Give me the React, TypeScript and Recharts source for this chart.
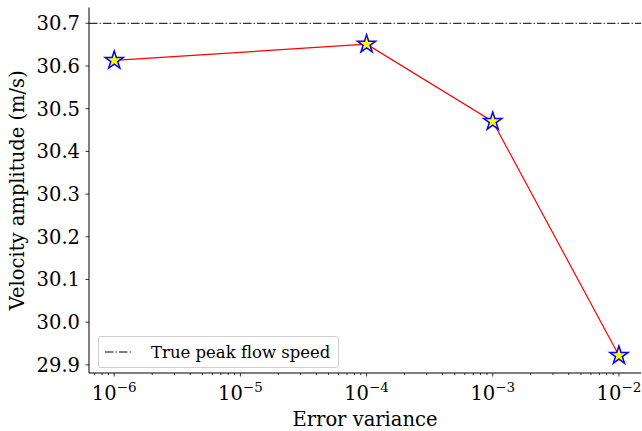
import { LineChart, Line, XAxis, YAxis, ReferenceLine } from "recharts";

const variances = [1e-6, 1e-4, 1e-3, 1e-2];
const amplitudes = [30.613, 30.651, 30.47, 29.922];
const truePeak = 30.7;
const yTicks = [29.9, 30.0, 30.1, 30.2, 30.3, 30.4, 30.5, 30.6, 30.7];
const majorX = [1e-6, 1e-5, 1e-4, 1e-3, 1e-2];

// minor log ticks 2..9 for each decade
const minorX: number[] = [];
for (let e = -7; e <= -2; e++) {
  for (let m = 2; m <= 9; m++) minorX.push(m * Math.pow(10, e));
}
const xDomain = [Math.pow(10, -6.2), Math.pow(10, -1.825)];
const allX = [...majorX, ...minorX].filter((v) => v >= xDomain[0] && v <= xDomain[1]);

const data = variances.map((v, i) => ({ variance: v, amplitude: amplitudes[i] }));

const FONT = "'DejaVu Serif', serif";
const FS = 19.5;
const txt = { fontFamily: FONT, fontSize: FS };

function XTick(props: any) {
  const { x, y, payload } = props;
  const v = payload.value;
  const exp = Math.round(Math.log10(v));
  const isMajor = Math.abs(Math.log10(v) - exp) < 1e-6;
  if (!isMajor) return <line x1={x} x2={x} y1={y} y2={y + 2} stroke="#000" strokeWidth={0.8} />;
  return (
    <g>
      <line x1={x} x2={x} y1={y} y2={y + 3.5} stroke="#000" strokeWidth={0.8} />
      <text x={x} y={y + 27} textAnchor="middle" style={txt} fill="#000">
        10
        <tspan dy={-8} style={{ fontSize: 13.5 }}>{"\u2212" + Math.abs(exp)}</tspan>
      </text>
    </g>
  );
}

function YTick(props: any) {
  const { x, y, payload } = props;
  return (
    <g>
      <line x1={x} x2={x - 3.5} y1={y} y2={y} stroke="#000" strokeWidth={0.8} />
      <text x={x - 9} y={y + 7} textAnchor="end" style={txt} fill="#000">
        {payload.value.toFixed(1)}
      </text>
    </g>
  );
}

function XLabel(props: any) {
  const { viewBox } = props;
  const cx = viewBox.x + viewBox.width / 2;
  return (
    <text x={cx} y={426} textAnchor="middle" style={txt} fill="#000">
      Error variance
    </text>
  );
}

function YLabel(props: any) {
  const { viewBox } = props;
  const cy = viewBox.y + viewBox.height / 2;
  return (
    <text x={24} y={cy} transform={`rotate(-90 24 ${cy})`} textAnchor="middle" style={txt} fill="#000">
      Velocity amplitude (m/s)
    </text>
  );
}

function Star(props: any) {
  const { cx, cy } = props;
  if (cx == null || cy == null) return null;
  const R = 9.5;
  const r = R * 0.382;
  const pts: string[] = [];
  for (let i = 0; i < 10; i++) {
    const a = -Math.PI / 2 + (i * Math.PI) / 5;
    const rad = i % 2 === 0 ? R : r;
    pts.push(`${cx + rad * Math.cos(a)},${cy + rad * Math.sin(a)}`);
  }
  return <polygon points={pts.join(" ")} fill="#ffff00" stroke="#0000ff" strokeWidth={1.5} strokeLinejoin="miter" />;
}

function LegendBox() {
  return (
    <div
      style={{
        position: "absolute",
        left: 98,
        top: 336,
        width: 241,
        height: 32,
        border: "1px solid #d0d0d0",
        borderRadius: 3,
        background: "rgba(255,255,255,0.8)",
        display: "flex",
        alignItems: "center",
        fontFamily: FONT,
        fontSize: 16.5,
        color: "#000",
        boxSizing: "border-box",
      }}
    >
      <svg width={28} height={10} style={{ marginLeft: 6 }}>
        <line x1={0} x2={27} y1={5} y2={5} stroke="#000" strokeWidth={1} strokeDasharray="8.5 2.1 1.3 2.1" />
      </svg>
      <span style={{ marginLeft: 18 }}>True peak flow speed</span>
    </div>
  );
}

export default function App() {
  return (
    <div style={{ position: "absolute", left: 0, top: 0, width: 642, height: 431, background: "#fff", fontFamily: FONT }}>
      <LineChart width={642} height={431} data={data} margin={{ top: 7.5, right: 1, left: 0, bottom: 0 }} style={{ fontFamily: FONT }}>
        <XAxis
          dataKey="variance"
          type="number"
          scale="log"
          domain={xDomain}
          allowDataOverflow
          ticks={allX}
          interval={0}
          tick={<XTick />}
          tickLine={false}
          tickSize={0}
          tickMargin={0}
          height={58}
          axisLine={{ stroke: "#000", strokeWidth: 1 }}
          label={<XLabel />}
        />
        <XAxis xAxisId="top" orientation="top" type="number" domain={[0, 1]} tick={false} tickLine={false} height={0} axisLine={{ stroke: "#000", strokeWidth: 1 }} />
        <YAxis
          type="number"
          domain={[29.881, 30.737]}
          allowDataOverflow
          ticks={yTicks}
          interval={0}
          tick={<YTick />}
          tickLine={false}
          tickSize={0}
          tickMargin={0}
          width={89}
          axisLine={{ stroke: "#000", strokeWidth: 1 }}
          label={<YLabel />}
        />
        <YAxis yAxisId="right" orientation="right" type="number" domain={[0, 1]} tick={false} tickLine={false} width={0} axisLine={{ stroke: "#000", strokeWidth: 1 }} />
        <ReferenceLine y={truePeak} stroke="#000" strokeWidth={1} strokeDasharray="8.5 2.1 1.3 2.1" />
        <Line
          dataKey="amplitude"
          stroke="#ff0000"
          strokeWidth={1.2}
          dot={<Star />}
          activeDot={false}
          isAnimationActive={false}
        />
      </LineChart>
      <LegendBox />
    </div>
  );
}
